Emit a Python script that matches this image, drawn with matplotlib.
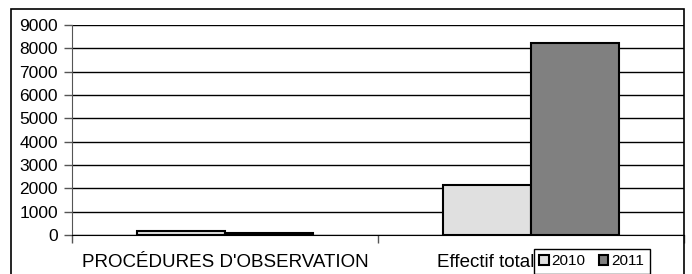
import matplotlib.pyplot as plt
import matplotlib.transforms as mtransforms
from matplotlib.patches import Rectangle
import numpy as np

plt.rcParams['font.family'] = ['Liberation Sans', 'DejaVu Sans']

# data
categories = ["PROCÉDURES D'OBSERVATION", "Effectif total"]
years = ["2010", "2011"]
values_2010 = [170, 2150]
values_2011 = [100, 8250]
colors = ["#e0e0e0", "#808080"]

fig = plt.figure(figsize=(6.92, 2.74), dpi=100)
ax = fig.add_axes([72 / 692, 1 - 235 / 274, (684 - 72) / 692, (235 - 25) / 274])

x = np.arange(len(categories))
w = 0.287
ax.bar(x - w / 2, values_2010, w, color=colors[0], edgecolor="black", linewidth=1.5, label=years[0], zorder=3)
ax.bar(x + w / 2, values_2011, w, color=colors[1], edgecolor="black", linewidth=1.5, label=years[1], zorder=3)

ax.set_xlim(-0.5, 1.5)
ax.set_ylim(0, 9000)
ax.set_yticks(range(0, 9001, 1000))
ax.yaxis.grid(True, color="black", linewidth=1)
ax.set_axisbelow(True)

ax.set_xticks(x)
ax.set_xticklabels(categories, fontsize=13.5)
ax.set_xticks([-0.5, 0.5, 1.5], minor=True)
ax.tick_params(axis="x", which="major", length=0, pad=14)
ax.tick_params(axis="x", which="minor", length=6, width=1, color="#555555")
ax.tick_params(axis="y", length=6, width=1, labelsize=12.5, pad=4, color="#555555")

# the second category label sits left of centre in the original (partly under the legend)
lbl = ax.get_xticklabels()[1]
lbl.set_transform(lbl.get_transform() + mtransforms.ScaledTranslation(-0.45, 0, fig.dpi_scale_trans))

for s in ["top", "right"]:
    ax.spines[s].set_visible(False)
ax.spines["left"].set_color("#555555")
ax.spines["bottom"].set_color("black")

# outer frame of the chart
fig.patches.append(Rectangle((11 / 692, -0.1), (684 - 11) / 692, 1 - 9 / 274 + 0.1,
                             transform=fig.transFigure, fill=False,
                             edgecolor="black", linewidth=1.2, zorder=0))

leg = fig.legend(loc="upper left", bbox_to_anchor=(534 / 692, 1 - 249 / 274),
                 ncol=2, fontsize=11, frameon=True, fancybox=False,
                 handlelength=0.6, handleheight=0.6, handletextpad=0.2,
                 columnspacing=0.9, borderpad=0.35, borderaxespad=0)
leg.get_frame().set_edgecolor("black")
leg.get_frame().set_linewidth(1)
leg.get_frame().set_alpha(1)

plt.savefig("out.png", dpi=100)
